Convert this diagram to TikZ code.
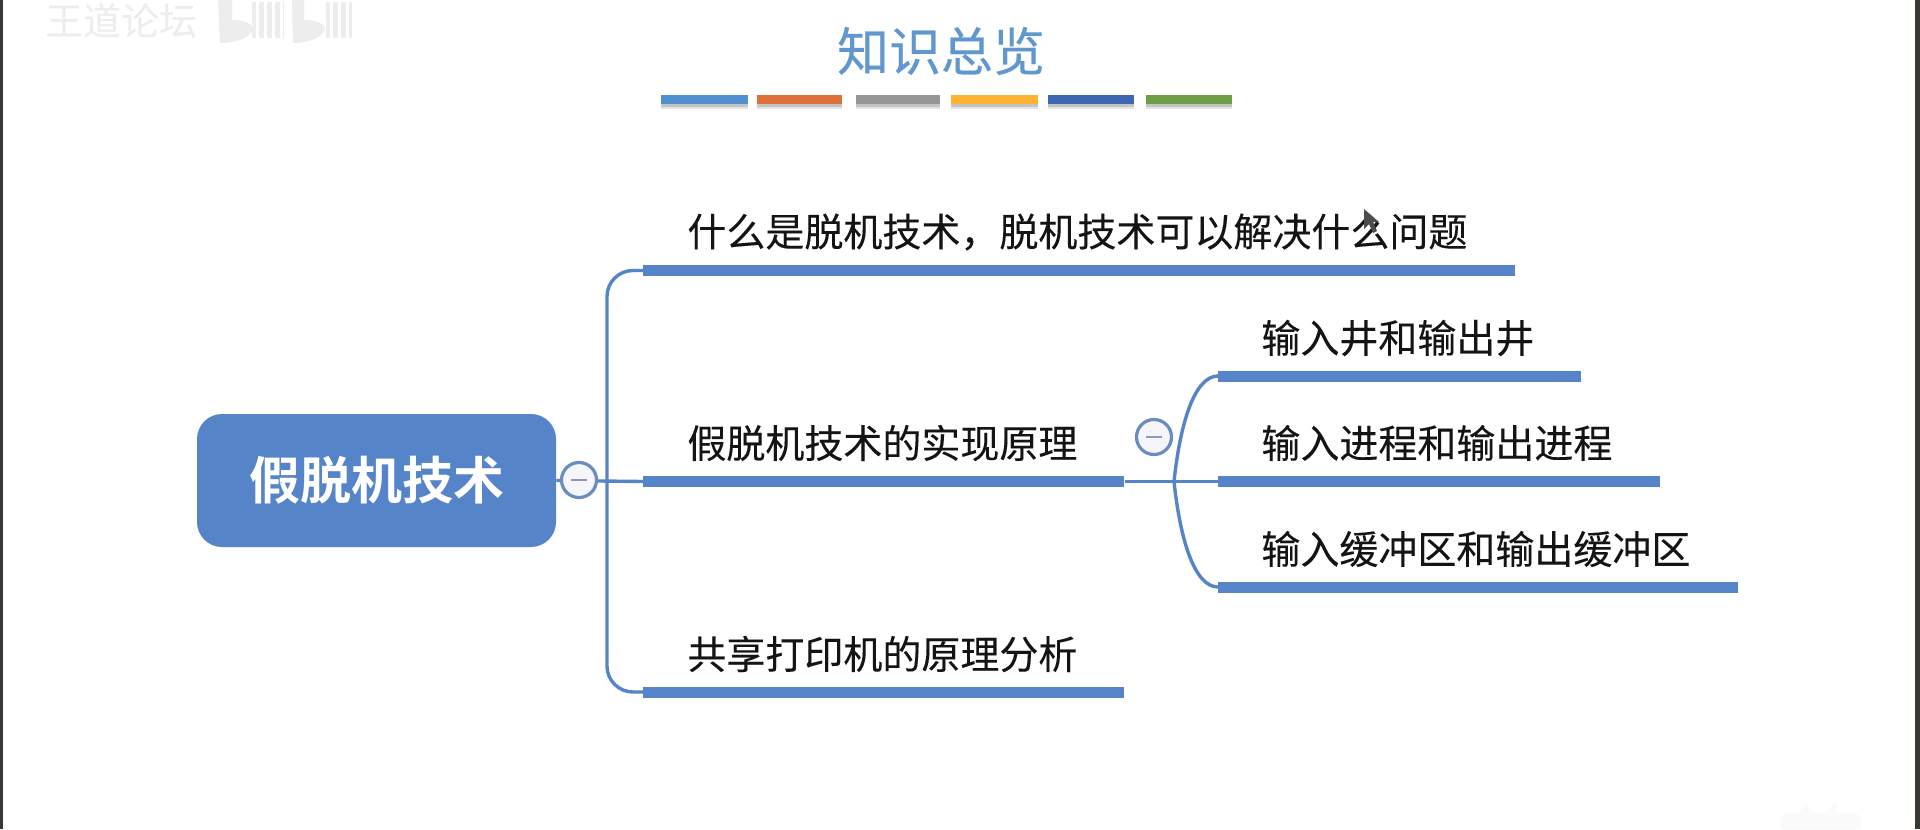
\documentclass[tikz,border=0pt]{standalone}
\usepackage{fontspec}
\setmainfont[FakeBold=0.12]{Noto Sans CJK SC}
\newfontfamily\cjkbold{Noto Sans CJK SC Bold}
\newfontfamily\cjkhead[FakeBold=0.35]{Noto Sans CJK SC}
\newfontfamily\cjkplain{Noto Sans CJK SC}
\usetikzlibrary{shadows}
\definecolor{mapblue}{HTML}{5585C8}
\definecolor{titleblue}{HTML}{5F97CE}
\definecolor{stripeA}{HTML}{5090D0}
\definecolor{stripeB}{HTML}{E0703A}
\definecolor{stripeC}{HTML}{969696}
\definecolor{stripeD}{HTML}{FCB332}
\definecolor{stripeE}{HTML}{3C67B1}
\definecolor{stripeF}{HTML}{6C9F45}
\definecolor{ringblue}{HTML}{6A8CBE}
\definecolor{ringfill}{HTML}{F6F6FA}
\definecolor{minusgrey}{HTML}{8F97B8}
\definecolor{edgedark}{HTML}{3B3833}
\definecolor{faint}{HTML}{EDEDED}
\tikzset{
  x=0.5pt,y=-0.5pt,
  rootbox/.style={fill=mapblue,rounded corners=12.5pt,minimum width=179.5pt,minimum height=66.5pt,inner sep=0pt,
    text=white,font=\cjkbold\fontsize{25.5}{26}\selectfont},
  branchbar/.style={fill=mapblue,anchor=west,minimum height=5.5pt,inner sep=0pt},
  label/.style={anchor=west,inner sep=0pt,text=black!92,font=\fontsize{19.5}{20}\selectfont},
  link/.style={draw=mapblue,line width=1.7pt},
  toggle/.style={circle,draw=ringblue,line width=1.6pt,fill=ringfill,minimum size=17.5pt,inner sep=0pt},
  minusmark/.style={draw=minusgrey,line width=1.4pt},
  stripe/.style={anchor=west,minimum height=4.5pt,inner sep=0pt,
    drop shadow={shadow xshift=0pt,shadow yshift=-1.4pt,opacity=.14,fill=black},
    drop shadow={shadow xshift=0pt,shadow yshift=-2.4pt,opacity=.10,fill=black}},
}
\begin{document}
\begin{tikzpicture}
\useasboundingbox[fill=white] (0,0) rectangle (1920,829);

% window edges
\fill[edgedark] (0,0) rectangle (3,829);
\fill[edgedark] (1915,0) rectangle (1920,829);

% corner watermark
\node[anchor=west,inner sep=0pt,text=faint,font=\cjkplain\fontsize{19}{19}\selectfont] (forum) at (45,21) {王道论坛};
\fill[faint] (218,0) -- (232,0) -- (232,20) .. controls (250,20) and (258,28) .. (250,34) .. controls (242,42) and (226,43) .. (220,43) -- cycle;
\fill[faint] (292,0) -- (304,0) -- (304,20) .. controls (322,20) and (330,28) .. (322,34) .. controls (314,42) and (298,43) .. (293,43) -- cycle;
\fill[faint] (252,2) rectangle (284,38);
\fill[faint] (326,2) rectangle (352,38);
\foreach \sx in {256,264,272,280,330,338,346}{\fill[white] (\sx,2) rectangle (\sx+3,38);}

% heading and colour stripes
\node[text=titleblue,inner sep=0pt,font=\cjkhead\fontsize{26}{26}\selectfont] (heading) at (941,51) {知识总览};
\node[stripe,fill=stripeA,minimum width=43.5pt] (s1) at (661,99.5) {};
\node[stripe,fill=stripeB,minimum width=42.5pt] (s2) at (757,99.5) {};
\node[stripe,fill=stripeC,minimum width=42pt] (s3) at (856,99.5) {};
\node[stripe,fill=stripeD,minimum width=43.5pt] (s4) at (951,99.5) {};
\node[stripe,fill=stripeE,minimum width=43pt] (s5) at (1048,99.5) {};
\node[stripe,fill=stripeF,minimum width=43pt] (s6) at (1146,99.5) {};

% root and first-level bars
\node[rootbox] (root) at (376.5,480.5) {假脱机技术};
\node[branchbar,minimum width=436pt] (bar1) at (643,270.5) {};
\node[branchbar,minimum width=240.5pt] (bar2) at (643,481.5) {};
\node[branchbar,minimum width=240.5pt] (bar3) at (643,692) {};
\node[label] (t1) at (687,232) {什么是脱机技术^^^^ff0c脱机技术可以解决什么问题};
\node[label] (t2) at (687,443) {假脱机技术的实现原理};
\node[label] (t3) at (687,654) {共享打印机的原理分析};

% second-level bars
\node[branchbar,minimum width=181.5pt] (sub1) at (1218,376) {};
\node[branchbar,minimum width=221pt] (sub2) at (1218,481.5) {};
\node[branchbar,minimum width=260pt] (sub3) at (1218,587) {};
\node[label] (u1) at (1261,338) {输入井和输出井};
\node[label] (u2) at (1261,443) {输入进程和输出进程};
\node[label] (u3) at (1261,549) {输入缓冲区和输出缓冲区};

% first-level connectors
\coordinate (spine) at (607,481.5);
\draw[link] (root.east) -- (bar2.west);
\draw[link,rounded corners=13pt] (bar1.west) -| (spine) |- (bar3.west);

% second-level connectors
\coordinate (fork) at (1174,481.5);
\draw[link] (bar2.east) -- (sub2.west);
\draw[link] (fork) .. controls (1180,425) and (1194,376) .. (sub1.west);
\draw[link] (fork) .. controls (1180,538) and (1194,587) .. (sub3.west);

% collapse toggles
\node[toggle] (c1) at (579,480) {};
\draw[minusmark] ([xshift=-4pt]c1.center) -- ([xshift=4pt]c1.center);
\node[toggle] (c2) at (1154,437) {};
\draw[minusmark] ([xshift=-4pt]c2.center) -- ([xshift=4pt]c2.center);

% pointer
\fill[black!70] (1364,209) -- (1364,229) -- (1369,224) -- (1373,233) -- (1377,231) -- (1373,222) -- (1379,222) -- cycle;

% video-site badge
\fill[black!2] (1781,829) -- (1781,822) .. controls (1781,815) and (1785,813) .. (1791,813) -- (1800,813) -- (1803,806) -- (1808,803) -- (1809,808) -- (1812,813) -- (1826,813) -- (1833,804) -- (1838,804) -- (1835,813) -- (1851,813) .. controls (1858,813) and (1861,817) .. (1861,822) -- (1861,829) -- cycle;
\end{tikzpicture}
\end{document}
